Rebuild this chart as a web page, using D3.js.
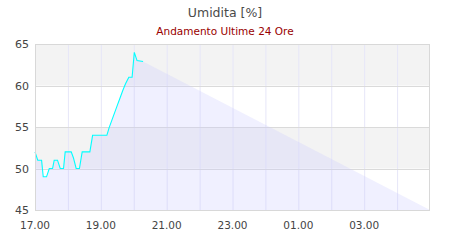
<!DOCTYPE html>
<html><head><meta charset="utf-8">
<script src="https://cdn.jsdelivr.net/npm/d3@7"></script>
<style>body{margin:0;background:#fff}svg{display:block;font-family:"DejaVu Sans",sans-serif}</style>
</head><body><svg id="c" width="450" height="240"></svg>
<script>
const times = ["17:00","17:05","17:12","17:15","17:21","17:26","17:32","17:35","17:41","17:46","17:52","17:55","18:06","18:10","18:15","18:21","18:26","18:40","18:45","19:11","19:15","19:20","19:25","19:30","19:35","19:40","19:45","19:51","19:57","20:01","20:06","20:17"];
const values = [52,51,51,49,49,50,50,51,51,50,50,52,52,51.3,50,50,52,52,54,54,54.9,55.8,56.7,57.6,58.5,59.4,60.2,61,61,64,63,62.9];
const yTicks = [45,50,55,60,65];
const xTickLabels = ["17.00","19.00","21.00","23.00","01.00","03.00"];
const fillEnd = {time:"29:00", value:45};

const svg = d3.select("#c");
const m = {l:35, r:20, t:44, b:30};
const W = 450, H = 240;
const toH = s => { const [h,mm]=s.split(":").map(Number); return h + mm/60; };
const x = d3.scaleLinear().domain([17,29]).range([m.l, W-m.r]);
const y = d3.scaleLinear().domain([45,65]).range([H-m.b, m.t]);
const data = times.map((t,i)=>({h:toH(t), v:values[i]}));

// title
svg.append("text").attr("x",225).attr("y",17).attr("text-anchor","middle").attr("font-size",12.5).attr("fill","#4a4a4a").text("Umidita [%]");
svg.append("text").attr("x",225).attr("y",34.5).attr("text-anchor","middle").attr("font-size",10.5).attr("fill","#990000").text("Andamento Ultime 24 Ore");

// bands
for (let i=0;i<yTicks.length-1;i++){
  const a=yTicks[i], b=yTicks[i+1];
  svg.append("rect").attr("x",x(17)).attr("width",x(29)-x(17)).attr("y",y(b)).attr("height",y(a)-y(b))
    .attr("fill", i%2===1 ? "#f3f3f3" : "#ffffff");
}
// vertical grid hourly
const hours = d3.range(18,29);
svg.append("g").selectAll("line").data(hours).join("line")
  .attr("x1",d=>x(d)+0.5).attr("x2",d=>x(d)+0.5).attr("y1",y(65)).attr("y2",y(45))
  .attr("stroke","#e6e6f8").attr("stroke-width",1);
// horizontal grid
svg.append("g").selectAll("line").data(yTicks).join("line")
  .attr("x1",x(17)).attr("x2",x(29)).attr("y1",d=>Math.round(y(d))+0.5).attr("y2",d=>Math.round(y(d))+0.5)
  .attr("stroke","#dadada").attr("stroke-width",1);

// area
const areaData = data.concat([{h:toH(fillEnd.time), v:fillEnd.value}]);
const area = d3.area().x(d=>x(d.h)).y0(y(45)).y1(d=>y(d.v));
svg.append("path").datum(areaData).attr("d",area).attr("fill","rgba(200,200,255,0.28)");

// line
const line = d3.line().x(d=>x(d.h)).y(d=>y(d.v));
svg.append("path").datum(data).attr("d",line).attr("fill","none").attr("stroke","#00ffff").attr("stroke-width",1.1);

// frame
svg.append("rect").attr("x",x(17)+0.5).attr("y",Math.round(y(65))+0.5).attr("width",x(29)-x(17)-1).attr("height",Math.round(y(45))-Math.round(y(65)))
  .attr("fill","none").attr("stroke","#d8d8d8");

// y labels
svg.append("g").selectAll("text").data(yTicks).join("text")
  .attr("x",29).attr("y",d=>y(d)+4).attr("text-anchor","end").attr("font-size",11).attr("fill","#444").text(d=>d);
// x labels
const xTicks = [17,19,21,23,25,27];
svg.append("g").selectAll("text").data(xTicks).join("text")
  .attr("x",d=>x(d)).attr("y",229).attr("text-anchor","middle").attr("font-size",10.5).attr("fill","#444").text((d,i)=>xTickLabels[i]);
</script></body></html>
